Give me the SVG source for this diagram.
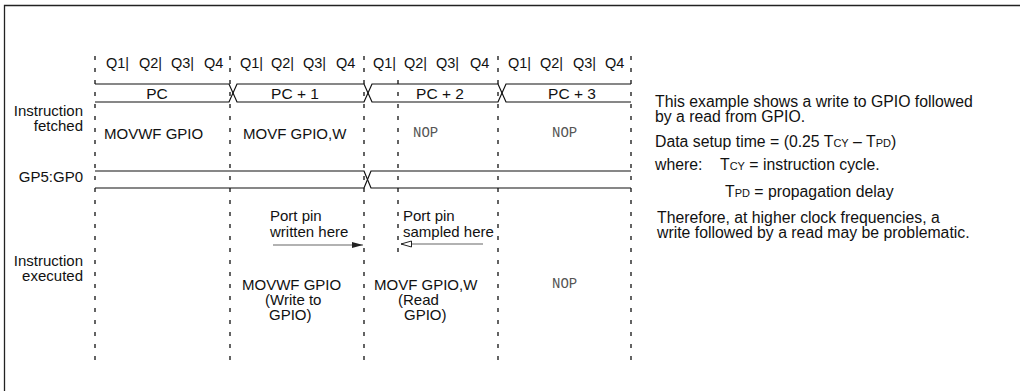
<svg xmlns="http://www.w3.org/2000/svg" width="1020" height="391" viewBox="0 0 1020 391">
<style>
.t{font-family:"Liberation Sans",Arial,sans-serif;font-size:15px;fill:#111}
.q{font-family:"Liberation Sans",Arial,sans-serif;font-size:14.5px;fill:#111}
.p{font-family:"Liberation Sans",Arial,sans-serif;font-size:15.5px;fill:#111;text-anchor:middle}
.m{font-family:"Liberation Mono","Courier New",monospace;font-size:14px;fill:#555}
.r{text-anchor:end}
.dash{stroke:#111;stroke-width:1.3;stroke-dasharray:4 8;fill:none}
.bus{stroke:#111;stroke-width:1.2;fill:none}
.arr{stroke:#666;stroke-width:1.2;fill:none}
.sc{font-size:11px}
</style>
<defs>
<marker id="af" markerWidth="12" markerHeight="8" refX="11" refY="4" orient="auto" markerUnits="userSpaceOnUse">
<path d="M0,1 L11,4 L0,7 Z" fill="#222"/>
</marker>
<marker id="ao" markerWidth="12" markerHeight="8" refX="11" refY="4" orient="auto" markerUnits="userSpaceOnUse">
<path d="M0.5,1 L11,4 L0.5,7 Z" fill="#fff" stroke="#222" stroke-width="1"/>
</marker>
</defs>
<rect width="1020" height="391" fill="#fff"/>
<path d="M4.5,391 V5.5 H1020" stroke="#222" stroke-width="1.3" fill="none"/>

<g id="connectors">
<line class="dash" x1="95" y1="56" x2="95" y2="364"/>
<line class="dash" x1="230" y1="56" x2="230" y2="364"/>
<line class="dash" x1="364" y1="56" x2="364" y2="364"/>
<line class="dash" x1="498" y1="56" x2="498" y2="364"/>
<line class="dash" x1="631" y1="56" x2="631" y2="364"/>
<line class="dash" x1="398" y1="80" x2="398" y2="258"/>
<path class="bus" d="M95,84 H229 L237,102 H364 L372,84 H498 L506,102 H631"/>
<path class="bus" d="M95,102 H229 L237,84 H364 L372,102 H498 L506,84 H631"/>
<path class="bus" d="M95,171 H364 L371,188 H631"/>
<path class="bus" d="M95,188 H364 L371,171 H631"/>
<line class="arr" x1="273" y1="245" x2="363" y2="245" marker-end="url(#af)"/>
<line class="arr" x1="483" y1="244" x2="401" y2="244" marker-end="url(#ao)"/>
</g>

<g id="q-labels" class="q">
<text x="106" y="68">Q1|</text><text x="139" y="68">Q2|</text><text x="171" y="68">Q3|</text><text x="204" y="68">Q4</text>
<text x="240" y="68">Q1|</text><text x="271" y="68">Q2|</text><text x="303" y="68">Q3|</text><text x="336" y="68">Q4</text>
<text x="373" y="68">Q1|</text><text x="404" y="68">Q2|</text><text x="436" y="68">Q3|</text><text x="470" y="68">Q4</text>
<text x="508" y="68">Q1|</text><text x="540" y="68">Q2|</text><text x="573" y="68">Q3|</text><text x="605" y="68">Q4</text>
</g>

<g id="pc-labels" class="p">
<text x="157" y="99">PC</text>
<text x="295" y="99">PC + 1</text>
<text x="440" y="99">PC + 2</text>
<text x="572" y="99">PC + 3</text>
</g>

<g id="row-labels" class="t r">
<text x="83" y="116">Instruction</text>
<text x="83" y="131">fetched</text>
<text x="83" y="182">GP5:GP0</text>
<text x="83" y="266">Instruction</text>
<text x="83" y="281">executed</text>
</g>

<g id="fetched">
<text class="t" x="104" y="139">MOVWF GPIO</text>
<text class="t" x="243" y="139">MOVF GPIO,W</text>
<text class="m" x="413" y="137">NOP</text>
<text class="m" x="552" y="137">NOP</text>
</g>

<g id="port-written" class="t">
<text x="270" y="221">Port pin</text>
<text x="270" y="237">written here</text>
</g>
<g id="port-sampled" class="t">
<text x="403" y="221">Port pin</text>
<text x="403" y="237">sampled here</text>
</g>

<g id="executed">
<text class="t" x="242" y="290">MOVWF GPIO</text>
<text class="t" x="265" y="305">(Write to</text>
<text class="t" x="269" y="320">GPIO)</text>
<text class="t" x="374" y="290">MOVF GPIO,W</text>
<text class="t" x="398" y="305">(Read</text>
<text class="t" x="404" y="320">GPIO)</text>
<text class="m" x="552" y="288">NOP</text>
</g>

<g id="notes" class="t" style="font-size:15.8px">
<text x="655" y="107">This example shows a write to GPIO followed</text>
<text x="655" y="122">by a read from GPIO.</text>
<text x="655" y="147">Data setup time = (0.25 T<tspan class="sc">CY</tspan> – T<tspan class="sc">PD</tspan>)</text>
<text x="655" y="170">where:</text>
<text x="720" y="170">T<tspan class="sc">CY</tspan> = instruction cycle.</text>
<text x="725" y="197">T<tspan class="sc">PD</tspan> = propagation delay</text>
<text x="657" y="223">Therefore, at higher clock frequencies, a</text>
<text x="657" y="238">write followed by a read may be problematic.</text>
</g>
</svg>
